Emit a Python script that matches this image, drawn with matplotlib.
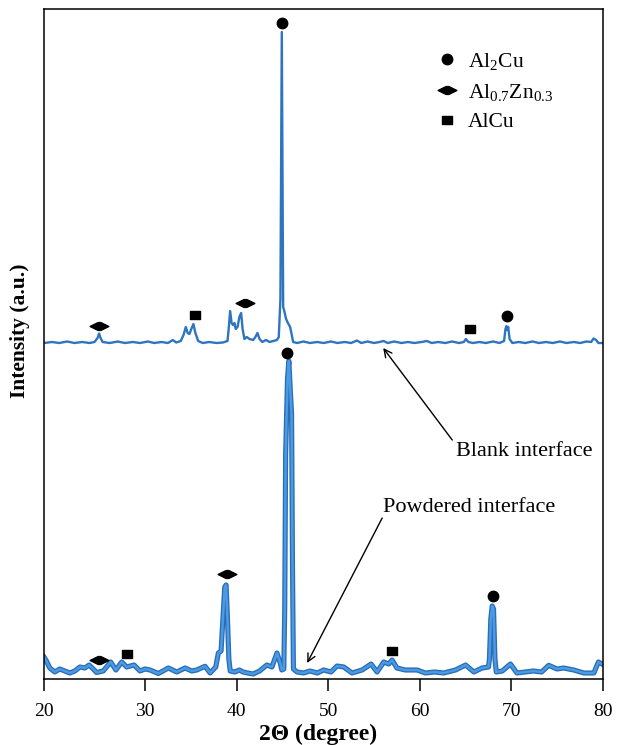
import numpy as np
import matplotlib
matplotlib.use("Agg")
import matplotlib.pyplot as plt
from matplotlib.path import Path
from matplotlib.lines import Line2D

plt.rcParams['font.family'] = ['Liberation Serif', 'DejaVu Serif']
plt.rcParams['mathtext.fontset'] = 'custom'
plt.rcParams['mathtext.rm'] = 'Liberation Serif'
plt.rcParams['mathtext.it'] = 'Liberation Serif:italic'
plt.rcParams['mathtext.bf'] = 'Liberation Serif:bold'

# ---------------- data (2-theta in degrees, intensity in a.u.) ----------------
blank_2theta = [20.0, 20.8, 21.5, 22.3, 23.0, 23.8, 24.5, 25.0, 25.3, 25.45, 25.6, 25.8,
                26.5, 27.3, 28.0, 28.8, 29.5, 30.3, 31.0, 31.8, 32.5, 33.03, 33.4, 33.9,
                34.2, 34.45, 34.65, 34.85, 35.05, 35.28, 35.5, 35.8, 36.3, 37.0, 37.8, 38.5,
                39.0, 39.15, 39.29, 39.45, 39.6, 39.76, 39.9, 40.1, 40.3, 40.49, 40.65, 40.85,
                41.1, 41.4, 41.8, 42.05, 42.27, 42.5, 42.8, 43.2, 43.6, 44.0, 44.4, 44.6,
                44.78, 44.88, 44.93, 45.0, 45.08, 45.2, 45.4, 45.6, 45.84, 46.0, 46.17, 46.6,
                47.3, 48.0, 48.8, 49.5, 50.3, 51.0, 51.8, 52.5, 53.13, 53.6, 54.3, 55.0,
                55.6, 56.03, 56.5, 57.2, 58.0, 58.7, 59.4, 60.2, 60.77, 61.3, 62.0, 62.8,
                63.5, 64.3, 64.8, 65.03, 65.3, 65.8, 66.5, 67.2, 68.0, 68.7, 69.2, 69.35,
                69.45, 69.55, 69.65, 69.8, 70.1, 70.8, 71.5, 72.3, 73.0, 73.8, 74.5, 75.3,
                76.0, 76.8, 77.5, 78.2, 78.7, 78.97, 79.25, 79.5, 80.0]
blank_intensity = [336, 337, 336, 337.5, 336, 337, 336, 337, 341, 345.5, 341, 337,
                   336, 337.5, 336, 337, 336, 337.5, 336, 337, 336, 339, 336.5, 338,
                   344, 352, 346, 345, 350, 355, 346, 338, 336, 337, 336, 336.5,
                   338, 352, 368, 356, 354, 356, 350, 352, 362, 366, 350, 340,
                   342, 340, 339, 342, 346, 340, 337, 339, 337, 338, 339, 342,
                   380, 560, 647, 520, 372, 368, 360, 356, 352, 345, 337, 336,
                   337.5, 336, 337, 336, 337.5, 336, 337, 336, 338.5, 336, 337.5, 336,
                   337, 338, 336, 337.5, 336, 337, 336, 337, 338, 336, 337, 336,
                   337.5, 336, 337, 340, 337, 336, 337, 336, 337.5, 336, 338, 350,
                   353, 349, 352, 340, 336, 337, 336, 337.5, 336, 337, 336, 337.5,
                   336, 337, 336, 337.5, 337, 340.5, 339, 336, 336]

powder_2theta = [20.0, 20.24, 20.57, 21.07, 21.56, 22.06, 22.55, 23.05, 23.55, 24.04,
                 24.47, 24.87, 25.2, 25.86, 26.6, 27.12, 27.69, 28.18, 28.91, 29.5,
                 30.0, 30.55, 31.45, 32.55, 33.46, 34.37, 35.1, 35.64, 36.55, 37.1,
                 37.72, 38.0, 38.3, 38.5, 38.7, 38.85, 39.0, 39.15, 39.3, 39.8,
                 40.3, 40.7, 41.2, 41.8, 42.5, 43.3, 43.85, 44.4, 44.76, 44.93,
                 45.15, 45.25, 45.35, 45.55, 45.7, 45.85, 46.0, 46.1, 46.2, 46.6,
                 47.3, 48.0, 48.8, 49.5, 50.3, 50.96, 51.7, 52.6, 53.7, 54.68,
                 55.33, 56.06, 56.6, 56.97, 57.5, 58.4, 59.7, 60.6, 61.6, 62.6,
                 63.9, 65.0, 65.9, 66.8, 67.5, 67.6, 67.75, 67.9, 68.05, 68.2,
                 68.35, 69.0, 69.9, 70.6, 71.5, 72.4, 73.3, 74.07, 74.98, 75.7,
                 76.8, 77.9, 79.0, 79.5, 79.9]
powder_intensity = [22, 18, 11, 7, 10, 8, 6, 8, 12, 11,
                    14, 10, 6.5, 8, 17, 9, 17, 12, 14, 8,
                    10, 9, 5.5, 11, 7, 11, 8, 9, 12.7, 6,
                    12, 26, 28, 60, 92, 94, 60, 20, 8, 7,
                    9, 7, 6, 5, 8, 14, 12, 26, 16, 9,
                    10, 70, 225, 300, 318, 290, 265, 110, 10, 7,
                    6, 8, 6, 9, 7, 13, 12, 6, 9, 15,
                    7, 17, 15, 19, 11, 9, 9, 6, 7, 6,
                    9, 14, 7, 11, 12, 20, 60, 73, 70, 20,
                    7, 8, 15, 6, 7, 8, 7, 13.7, 10, 11,
                    9, 6, 6, 17, 15]

# phase marker positions (2-theta, intensity)
al2cu_x = [44.93, 69.5, 45.47, 67.94]
al2cu_y = [656, 363, 326, 83]
alzn_x = [25.45, 40.93, 38.95, 25.4]
alzn_y = [353, 376, 105, 19]
alcu_x = [35.46, 65.47, 28.17, 56.97]
alcu_y = [364, 350, 25, 28]

legend_labels = ['Al$_{2}$Cu', 'Al$_{0.7}$Zn$_{0.3}$', 'AlCu']
x_ticks = [20, 30, 40, 50, 60, 70, 80]

# ---------------- figure ----------------
fig = plt.figure(figsize=(6.18, 7.45), dpi=100)
ax = fig.add_axes([44 / 618, 66 / 745, 559 / 618, 670 / 745])

# x axis of the source image is slightly stretched between 20 and 30
K = 1.1033
def fwd(x):
    x = np.asarray(x, dtype=float)
    return np.where(x < 30, 30 - (30 - x) * K, x)
def inv(u):
    u = np.asarray(u, dtype=float)
    return np.where(u < 30, 30 - (30 - u) / K, u)
ax.set_xscale('function', functions=(fwd, inv))

blue = '#2e75c0'
ax.plot(blank_2theta, blank_intensity, color=blue, lw=1.7, solid_joinstyle='round')
ax.plot(powder_2theta, powder_intensity, color='#2a6cb6', lw=3.7, solid_joinstyle='round')
ax.plot(powder_2theta, powder_intensity, color='#4a9ae4', lw=1.8, solid_joinstyle='round')

diamond = Path([(-1, 0), (-0.15, 0.42), (0.15, 0.42), (1, 0), (0.15, -0.42), (-0.15, -0.42), (-1, 0)],
               [Path.MOVETO] + [Path.LINETO] * 5 + [Path.CLOSEPOLY])
rect = Path([(-1, -0.7), (1, -0.7), (1, 0.7), (-1, 0.7), (-1, -0.7)],
            [Path.MOVETO] + [Path.LINETO] * 3 + [Path.CLOSEPOLY])

ax.plot(al2cu_x, al2cu_y, linestyle='None', marker='o', ms=7.5, color='black')
ax.plot(alzn_x, alzn_y, linestyle='None', marker=diamond, ms=13.5, color='black')
ax.plot(alcu_x, alcu_y, linestyle='None', marker=rect, ms=7.5, color='black')

handles = [Line2D([], [], linestyle='None', marker='o', ms=7.5, color='black'),
           Line2D([], [], linestyle='None', marker=diamond, ms=13.5, color='black'),
           Line2D([], [], linestyle='None', marker=rect, ms=7.5, color='black')]
ax.legend(handles, legend_labels, loc='upper left', bbox_to_anchor=(0.698, 0.9375),
          frameon=False, fontsize=15.5, handlelength=1.2, handletextpad=0.36,
          labelspacing=0.45, borderpad=0, borderaxespad=0)

# annotations
ax.annotate('', xy=(56.0, 331), xytext=(63.54, 239),
            arrowprops=dict(arrowstyle='->', color='black', lw=1.0, shrinkA=0, shrinkB=0,
                            mutation_scale=14))
ax.text(63.97, 227, 'Blank interface', ha='left', va='center', fontsize=16)
ax.annotate('', xy=(47.7, 16), xytext=(55.89, 161),
            arrowprops=dict(arrowstyle='->', color='black', lw=1.0, shrinkA=0, shrinkB=0,
                            mutation_scale=14))
ax.text(56.0, 172, 'Powdered interface', ha='left', va='center', fontsize=16)

ax.set_xlim(20, 80)
ax.set_ylim(0, 670)
ax.set_xticks(x_ticks)
ax.set_xticklabels([str(t) for t in x_ticks])
ax.minorticks_off()
ax.set_yticks([])
ax.tick_params(axis='x', direction='out', length=8.5, width=1.1, labelsize=14, pad=8.5)
for s in ax.spines.values():
    s.set_linewidth(1.1)

fig.text(318 / 618, 1 - 734 / 745, '2\u0398 (degree)', ha='center', va='center',
         fontsize=17, fontweight='bold')
fig.text(20 / 618, 1 - 331 / 745, 'Intensity (a.u.)', ha='center', va='center',
         rotation=90, fontsize=15.5, fontweight='bold')

fig.savefig('out.png', dpi=100)
